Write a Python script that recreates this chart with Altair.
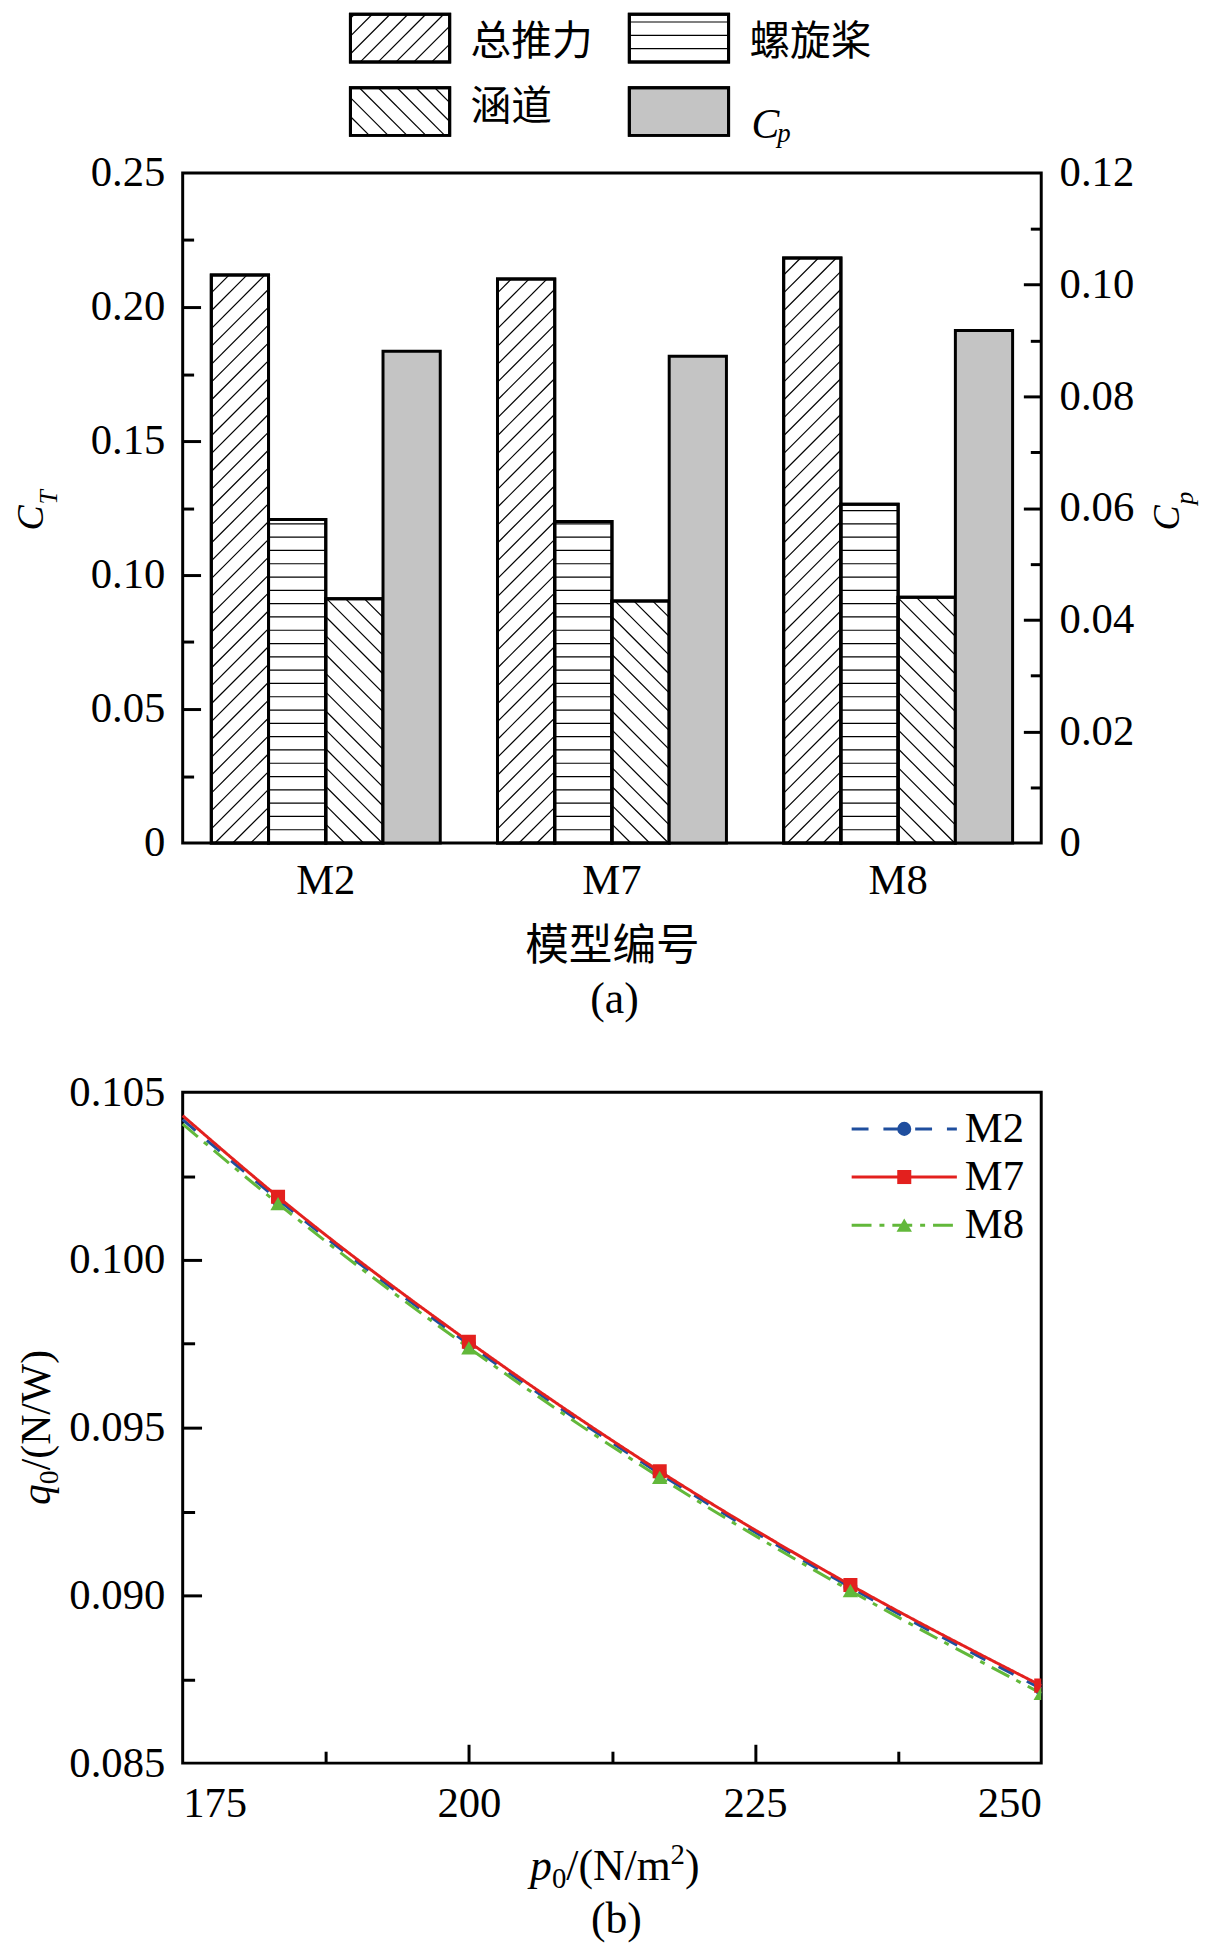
import altair as alt
import pandas as pd

# ---------------- data ----------------
models = ["M2", "M7", "M8"]
series_ct = ["总推力", "螺旋桨", "涵道"]
legend_names = ["总推力", "螺旋桨", "涵道", "Cp"]
ct_total = [0.2120, 0.2105, 0.2183]
ct_prop = [0.1207, 0.1200, 0.1264]
ct_duct = [0.0912, 0.0903, 0.0917]
cp_vals = [0.0881, 0.0872, 0.0918]

ct_domain = [0, 0.25]
cp_domain = [0, 0.12]
ct_ticks = [0, 0.05, 0.10, 0.15, 0.20, 0.25]
ct_major = [0.05, 0.10, 0.15, 0.20]
ct_minor = [0.025, 0.075, 0.125, 0.175, 0.225]
cp_ticks = [0, 0.02, 0.04, 0.06, 0.08, 0.10, 0.12]
cp_major = [0.02, 0.04, 0.06, 0.08, 0.10]
cp_minor = [0.01, 0.03, 0.05, 0.07, 0.09, 0.11]

p0 = [175, 183.33, 200, 216.67, 233.33, 250]
q_m2 = [0.10418, 0.10180, 0.09748, 0.09363, 0.09024, 0.08722]
q_m7 = [0.10430, 0.10188, 0.09756, 0.09370, 0.09031, 0.08731]
q_m8 = [0.10405, 0.10168, 0.09738, 0.09352, 0.09014, 0.08708]
p_domain = [175, 250]
q_domain = [0.085, 0.105]
p_ticks = [175, 200, 225, 250]
p_major = [200, 225]
p_minor = [187.5, 212.5, 237.5]
q_ticks = [0.085, 0.090, 0.095, 0.100, 0.105]
q_major = [0.090, 0.095, 0.100]
q_minor = [0.0875, 0.0925, 0.0975, 0.1025]

ct_title = ["C", "T"]
cp_title = ["C", "p"]
q_title = ["q", "0", "/(N/W)"]
p_title = ["p", "0", "/(N/m", "2", ")"]
x_title_a = "模型编号"
cap_a = "(a)"
cap_b = "(b)"

# ---------------- styles ----------------
FONT = "Liberation Serif"
CJK = "Noto Sans CJK SC"
GRAY = "#c4c4c4"
TICK_FS = 43
LAB = dict(labelFont=FONT, labelFontSize=TICK_FS, labelColor="black")
hatch_types = ["d", "h", "b"]
line_colors = ["#1f4e9e", "#e3201e", "#62b83a"]
dashes = [[17, 15], [1, 0], [20, 8, 5, 8]]
marker_shapes = ["circle", "square", "triangle-up"]
marker_sizes = [200, 200, 240]

W, H = 865, 675
W2, H2 = 865, 676
CT_MAX = ct_domain[1]
CP_MAX = cp_domain[1]
RATIO = CT_MAX / CP_MAX  # right (Cp) axis mapped onto the left (C_T) scale
TX = 7  # horizontal shift of the rotated axis titles

# ---------------- tables ----------------
rows = []
for gi, m in enumerate(models):
    for si, (s, vals) in enumerate(zip(series_ct, [ct_total, ct_prop, ct_duct])):
        rows.append({"model": m, "series": s, "gi": gi, "si": si,
                     "value": vals[gi], "t": hatch_types[si]})
ct_df = pd.DataFrame(rows)
cp_df = pd.DataFrame({"model": models, "gi": list(range(len(models))),
                      "si": [3] * len(models), "value": cp_vals})
leg_df = pd.DataFrame({"name": legend_names, "idx": list(range(len(legend_names))),
                       "t": hatch_types + ["n"]})
line_df = pd.DataFrame({
    "p": p0 * 3,
    "q": q_m2 + q_m7 + q_m8,
    "model": [models[0]] * len(p0) + [models[1]] * len(p0) + [models[2]] * len(p0),
})
bleg_df = pd.DataFrame({"model": models, "idx": list(range(len(models)))})


def hatch(chart, bw_expr, hp_expr):
    return chart.transform_calculate(
        sp="datum.t == 'h' ? 13.4 : (datum.t == 'd' ? 18 : 19)",
        bw=bw_expr,
        hp=hp_expr,
    ).transform_calculate(
        ks="sequence(0, ceil((datum.hp + datum.bw) / datum.sp) + 2)"
    ).transform_flatten(["ks"], as_=["k"]).transform_calculate(
        c="datum.t == 'd' ? datum.k * datum.sp - datum.bw : datum.k * datum.sp",
        u0="datum.t == 'd' ? max(0, -datum.c) : (datum.t == 'b' ? max(0, datum.c - datum.hp) : 0)",
        u1="datum.t == 'd' ? min(datum.bw, datum.hp - datum.c) : (datum.t == 'b' ? min(datum.bw, datum.c) : datum.bw)",
        v0="datum.t == 'd' ? datum.u0 + datum.c : (datum.t == 'b' ? datum.c - datum.u0 : datum.c)",
        v1="datum.t == 'd' ? datum.u1 + datum.c : (datum.t == 'b' ? datum.c - datum.u1 : datum.c)",
    ).transform_filter(
        "datum.u1 - datum.u0 > 0.5 && (datum.t != 'h' || (datum.c > 1 && datum.c < datum.hp - 1))"
    )


def text_layer(s, x, y, size, font=FONT, style="normal", align="center",
               baseline="alphabetic", angle=0):
    return alt.Chart(pd.DataFrame({"t": [s]})).mark_text(
        font=font, fontSize=size, fontStyle=style, align=align,
        baseline=baseline, angle=angle, color="black"
    ).encode(text="t:N", x=alt.value(x), y=alt.value(y))


def tick_axis(orient, values, size):
    return alt.Axis(orient=orient, values=values, ticks=True, tickSize=size,
                    tickWidth=3, tickColor="black", labels=False, domain=False,
                    grid=False, title=None, offset=-size)


# ================= (a) bar chart =================
xs = alt.Scale(domain=[0, 3], nice=False, zero=False)
ys = alt.Scale(domain=ct_domain, nice=False)

left_axis_a = alt.Axis(orient="left", values=ct_ticks, ticks=False, domain=False, grid=False,
                       title=None, labelPadding=18,
                       labelExpr="datum.value == 0 ? '0' : format(datum.value, '.2f')", **LAB)
right_axis_a = alt.Axis(orient="right", values=[v * RATIO for v in cp_ticks], ticks=False,
                        domain=False, grid=False, title=None, labelPadding=18,
                        labelExpr=f"datum.value == 0 ? '0' : format(datum.value / {RATIO}, '.2f')",
                        **LAB)

ct_base = alt.Chart(ct_df).transform_calculate(
    x0="datum.gi + 0.1 + 0.2 * datum.si",
    x1="datum.gi + 0.3 + 0.2 * datum.si",
    zero="0",
)
ct_bars = ct_base.mark_rect(fill="white", stroke="black", strokeWidth=3).encode(
    x=alt.X("x0:Q", scale=xs, axis=None),
    x2="x1:Q",
    y=alt.Y("value:Q", scale=ys, axis=left_axis_a),
    y2="zero:Q",
)
ct_hatch = hatch(ct_base, f"0.2 * {W} / 3", f"datum.value * {H} / {CT_MAX}").transform_calculate(
    hx=f"datum.x0 + datum.u0 * 3 / {W}",
    hx2=f"datum.x0 + datum.u1 * 3 / {W}",
    hy=f"datum.v0 * {CT_MAX} / {H}",
    hy2=f"datum.v1 * {CT_MAX} / {H}",
).mark_rule(color="black", strokeWidth=1.2).encode(
    x=alt.X("hx:Q", scale=xs, axis=None),
    x2="hx2:Q",
    y=alt.Y("hy:Q", scale=ys, axis=None),
    y2="hy2:Q",
)
ct_outline = ct_base.mark_rect(fill="white", fillOpacity=0, stroke="black", strokeWidth=3).encode(
    x=alt.X("x0:Q", scale=xs, axis=None),
    x2="x1:Q",
    y=alt.Y("value:Q", scale=ys, axis=None),
    y2="zero:Q",
)
cp_bars = alt.Chart(cp_df).transform_calculate(
    x0="datum.gi + 0.1 + 0.2 * datum.si",
    x1="datum.gi + 0.3 + 0.2 * datum.si",
    yv=f"datum.value * {RATIO}",
    zero="0",
).mark_rect(fill=GRAY, stroke="black", strokeWidth=3).encode(
    x=alt.X("x0:Q", scale=xs, axis=None),
    x2="x1:Q",
    y=alt.Y("yv:Q", scale=ys, axis=right_axis_a),
    y2="zero:Q",
)
# category labels under each group (placed through the x scale)
group_labels = alt.Chart(cp_df).transform_calculate(xc="datum.gi + 0.5").mark_text(
    font=FONT, fontSize=TICK_FS, baseline="middle", color="black"
).encode(text="model:N", x=alt.X("xc:Q", scale=xs, axis=None), y=alt.value(H + 38))

ticks_a = [
    alt.Chart(ct_df).mark_point(opacity=0).encode(
        x=alt.X("gi:Q", scale=xs, axis=None),
        y=alt.Y("value:Q", scale=ys, axis=tick_axis("left", ct_major, 18))),
    alt.Chart(ct_df).mark_point(opacity=0).encode(
        x=alt.X("gi:Q", scale=xs, axis=None),
        y=alt.Y("value:Q", scale=ys, axis=tick_axis("left", ct_minor, 11))),
    alt.Chart(ct_df).mark_point(opacity=0).encode(
        x=alt.X("gi:Q", scale=xs, axis=None),
        y=alt.Y("value:Q", scale=ys, axis=tick_axis("right", [v * RATIO for v in cp_major], 18))),
    alt.Chart(ct_df).mark_point(opacity=0).encode(
        x=alt.X("gi:Q", scale=xs, axis=None),
        y=alt.Y("value:Q", scale=ys, axis=tick_axis("right", [v * RATIO for v in cp_minor], 11))),
]

# hatched legend for (a): laid out in pixels, converted into the chart's scale units
PX_X = f"3 / {W}"
PX_Y = f"{CT_MAX} / {H}"
leg_base = alt.Chart(leg_df).transform_calculate(
    px0="169 + (datum.idx % 2) * 281",
    py0="-160 + floor(datum.idx / 2) * 74",
).transform_calculate(
    bx0=f"datum.px0 * {PX_X}",
    bx1=f"(datum.px0 + 100) * {PX_X}",
    by0=f"{CT_MAX} - datum.py0 * {PX_Y}",
    by1=f"{CT_MAX} - (datum.py0 + 48) * {PX_Y}",
)
leg_enc = dict(
    x=alt.X("bx0:Q", scale=xs, axis=None), x2="bx1:Q",
    y=alt.Y("by0:Q", scale=ys, axis=None), y2="by1:Q",
)
leg_rects_w = leg_base.transform_filter("datum.t != 'n'").mark_rect(
    fill="white", stroke="black", strokeWidth=3).encode(**leg_enc)
leg_rects_g = leg_base.transform_filter("datum.t == 'n'").mark_rect(
    fill=GRAY, stroke="black", strokeWidth=3).encode(**leg_enc)
leg_hatch = hatch(leg_base.transform_filter("datum.t != 'n'"), "100", "48").transform_calculate(
    hx=f"(datum.px0 + datum.u0) * {PX_X}",
    hx2=f"(datum.px0 + datum.u1) * {PX_X}",
    hy=f"{CT_MAX} - (datum.py0 + 48 - datum.v0) * {PX_Y}",
    hy2=f"{CT_MAX} - (datum.py0 + 48 - datum.v1) * {PX_Y}",
).mark_rule(color="black", strokeWidth=1.2).encode(
    x=alt.X("hx:Q", scale=xs, axis=None), x2="hx2:Q",
    y=alt.Y("hy:Q", scale=ys, axis=None), y2="hy2:Q",
)
leg_rect_outline = leg_base.mark_rect(fillOpacity=0, fill="white", stroke="black",
                                      strokeWidth=3).encode(**leg_enc)
leg_text = leg_base.transform_filter("datum.t != 'n'").transform_calculate(
    tx=f"(datum.px0 + 121) * {PX_X}",
    ty=f"{CT_MAX} - (datum.py0 + (datum.idx < 2 ? 29 : 21)) * {PX_Y}"
).mark_text(font=CJK, fontSize=41, align="left", baseline="middle", color="black").encode(
    text="name:N", x=alt.X("tx:Q", scale=xs, axis=None), y=alt.Y("ty:Q", scale=ys, axis=None),
)
leg_c = leg_base.transform_filter("datum.t == 'n'").transform_calculate(
    tx=f"(datum.px0 + 123) * {PX_X}", ty=f"{CT_MAX} - (datum.py0 + 38) * {PX_Y}",
    ch="substring(datum.name, 0, 1)"
).mark_text(font=FONT, fontSize=42, fontStyle="italic", align="left", color="black").encode(
    text="ch:N", x=alt.X("tx:Q", scale=xs, axis=None), y=alt.Y("ty:Q", scale=ys, axis=None),
)
leg_p = leg_base.transform_filter("datum.t == 'n'").transform_calculate(
    tx=f"(datum.px0 + 149) * {PX_X}", ty=f"{CT_MAX} - (datum.py0 + 47) * {PX_Y}",
    ch="substring(datum.name, 1)"
).mark_text(font=FONT, fontSize=27, fontStyle="italic", align="left", color="black").encode(
    text="ch:N", x=alt.X("tx:Q", scale=xs, axis=None), y=alt.Y("ty:Q", scale=ys, axis=None),
)

texts_a = [
    text_layer(x_title_a, 433, 780, 44, font=CJK, baseline="middle"),
    text_layer(cap_a, 435, 846, 44),
    text_layer(ct_title[0], -148 + TX, 360, 38, style="italic", align="left", angle=270),
    text_layer(ct_title[1], -134 + TX, 334, 26, style="italic", align="left", angle=270),
    text_layer(cp_title[0], 1004, 360, 38, style="italic", align="left", angle=270),
    text_layer(cp_title[1], 1018, 334, 26, style="italic", align="left", angle=270),
]

top = alt.layer(
    ct_bars, ct_hatch, ct_outline, cp_bars, group_labels, *ticks_a,
    leg_rects_w, leg_rects_g, leg_hatch, leg_rect_outline, leg_text, leg_c, leg_p, *texts_a
).resolve_axis(y="independent").properties(width=W, height=H)

# ================= (b) line chart =================
xs2 = alt.Scale(domain=p_domain, nice=False, zero=False)
ys2 = alt.Scale(domain=q_domain, nice=False, zero=False)
cs = alt.Scale(domain=models, range=line_colors)
ds = alt.Scale(domain=models, range=dashes)

x_axis_b = alt.Axis(orient="bottom", values=p_ticks, format="d", ticks=False, domain=False,
                    grid=False, title=None, labelPadding=20, **LAB)
y_axis_b = alt.Axis(orient="left", values=q_ticks, format=".3f", ticks=False, domain=False,
                    grid=False, title=None, labelPadding=18, **LAB)

lines = alt.Chart(line_df).mark_line(strokeWidth=3, interpolate="monotone").encode(
    x=alt.X("p:Q", scale=xs2, axis=x_axis_b),
    y=alt.Y("q:Q", scale=ys2, axis=y_axis_b),
    color=alt.Color("model:N", scale=cs, legend=None),
    strokeDash=alt.StrokeDash("model:N", scale=ds, legend=None),
)
markers = []
for m, shp, sz in zip(models, marker_shapes, marker_sizes):
    markers.append(
        alt.Chart(line_df).transform_filter(
            f"datum.model == '{m}' && datum.p > {p0[0]}"
        ).mark_point(filled=True, shape=shp, size=sz, opacity=1, clip=True).encode(
            x=alt.X("p:Q", scale=xs2, axis=None),
            y=alt.Y("q:Q", scale=ys2, axis=None),
            color=alt.Color("model:N", scale=cs, legend=None),
        )
    )

# legend for (b): laid out in pixels inside the plot, converted to scale units
PMIN, PSPAN = p_domain[0], p_domain[1] - p_domain[0]
QMAX, QSPAN = q_domain[1], q_domain[1] - q_domain[0]
bleg = alt.Chart(bleg_df).transform_calculate(
    py="37 + datum.idx * 48.5",
).transform_calculate(
    lp0=f"{PMIN} + 674 * {PSPAN} / {W2}",
    lp1=f"{PMIN} + 780 * {PSPAN} / {W2}",
    lpm=f"{PMIN} + 727 * {PSPAN} / {W2}",
    lpt=f"{PMIN} + 788 * {PSPAN} / {W2}",
    lq=f"{QMAX} - datum.py * {QSPAN} / {H2}",
)
bleg_lines = bleg.mark_rule(strokeWidth=3).encode(
    x=alt.X("lp0:Q", scale=xs2, axis=None), x2="lp1:Q",
    y=alt.Y("lq:Q", scale=ys2, axis=None),
    color=alt.Color("model:N", scale=cs, legend=None),
    strokeDash=alt.StrokeDash("model:N", scale=ds, legend=None),
)
bleg_marks = []
for m, shp, sz in zip(models, marker_shapes, marker_sizes):
    bleg_marks.append(
        bleg.transform_filter(f"datum.model == '{m}'").mark_point(
            filled=True, shape=shp, size=sz, opacity=1
        ).encode(
            x=alt.X("lpm:Q", scale=xs2, axis=None),
            y=alt.Y("lq:Q", scale=ys2, axis=None),
            color=alt.Color("model:N", scale=cs, legend=None),
        )
    )
bleg_text = bleg.mark_text(font=FONT, fontSize=TICK_FS, align="left", baseline="middle",
                           color="black").encode(
    text="model:N",
    x=alt.X("lpt:Q", scale=xs2, axis=None),
    y=alt.Y("lq:Q", scale=ys2, axis=None),
)

ticks_b = [
    alt.Chart(line_df).mark_point(opacity=0).encode(
        x=alt.X("p:Q", scale=xs2, axis=tick_axis("bottom", p_major, 19)),
        y=alt.Y("q:Q", scale=ys2, axis=None)),
    alt.Chart(line_df).mark_point(opacity=0).encode(
        x=alt.X("p:Q", scale=xs2, axis=tick_axis("bottom", p_minor, 12)),
        y=alt.Y("q:Q", scale=ys2, axis=None)),
    alt.Chart(line_df).mark_point(opacity=0).encode(
        x=alt.X("p:Q", scale=xs2, axis=None),
        y=alt.Y("q:Q", scale=ys2, axis=tick_axis("left", q_major, 19))),
    alt.Chart(line_df).mark_point(opacity=0).encode(
        x=alt.X("p:Q", scale=xs2, axis=None),
        y=alt.Y("q:Q", scale=ys2, axis=tick_axis("left", q_minor, 12))),
]
texts_b = [
    text_layer(p_title[0], 350, 794, 44, style="italic", align="left"),
    text_layer(p_title[1], 372, 802, 29, align="left"),
    text_layer(p_title[2], 386.5, 794, 44, align="left"),
    text_layer(p_title[3], 491.6, 778, 29, align="left"),
    text_layer(p_title[4], 506, 794, 44, align="left"),
    text_layer(cap_b, 437, 847, 44),
    text_layer(q_title[0], -141 + TX, 416, 42, style="italic", align="left", angle=270),
    text_layer(q_title[1], -133 + TX, 395, 28, align="left", angle=270),
    text_layer(q_title[2], -141 + TX, 381, 42, align="left", angle=270),
]

bottom = alt.layer(
    lines, *markers, bleg_lines, *bleg_marks, bleg_text, *ticks_b, *texts_b
).resolve_axis(x="independent", y="independent").properties(width=W2, height=H2)

chart = alt.vconcat(top, bottom, spacing=46).properties(
    padding={"left": 3, "top": -4, "right": 5, "bottom": 5}
).configure_view(
    stroke="black", strokeWidth=3
).configure_axis(
    labelFont=FONT, labelFontSize=TICK_FS, labelColor="black", grid=False, domain=False,
    tickColor="black"
)

chart.save("out.html", embed_options={"renderer": "svg", "actions": False})
